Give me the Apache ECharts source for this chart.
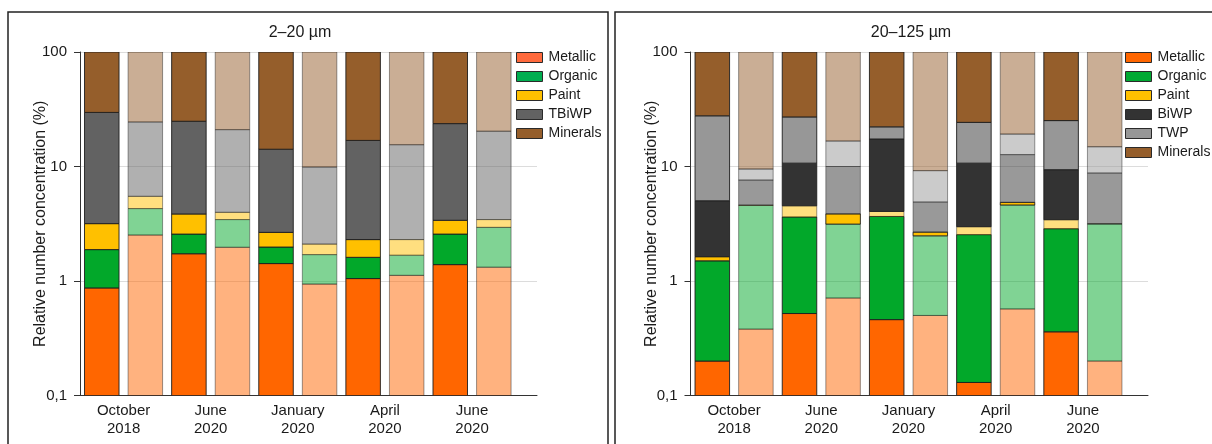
<!DOCTYPE html>
<html>
<head>
<meta charset="utf-8">
<script src="https://cdn.jsdelivr.net/npm/echarts@6/dist/echarts.min.js"></script>
<style>
  html, body { margin: 0; padding: 0; background: #ffffff; }
  #chart { width: 1212px; height: 444px; }
</style>
</head>
<body>
<div id="chart"></div>
<script>
// Sampling campaigns; each date holds two samples (solid bar, then pale bar).
const dates = ['October\n2018', 'June\n2020', 'January\n2020', 'April\n2020', 'June\n2020'];
const yTicks = [0.1, 1, 10, 100];

// 2–20 µm fraction, share of particle number (%) per sample
const fineClasses  = ['Metallic', 'Organic', 'Paint', 'TBiWP', 'Minerals'];
const fineMetallic = [0.87, 2.52, 1.73, 1.97, 1.42, 0.94, 1.05, 1.12, 1.39, 1.32];
const fineOrganic  = [1.01, 1.77, 0.84, 1.47, 0.56, 0.76, 0.56, 0.56, 1.18, 1.62];
const finePaint    = [1.29, 1.20, 1.28, 0.54, 0.68, 0.40, 0.69, 0.62, 0.82, 0.50];
const fineTBiWP    = [26.5, 19.0, 21.0, 17.0, 11.5, 7.8, 14.6, 13.2, 20.3, 16.9];
const fineMinerals = [70.3, 75.5, 75.1, 79.0, 85.8, 90.1, 83.1, 84.5, 76.3, 79.7];

// 20–125 µm fraction, share of particle number (%) per sample
const coarseClasses  = ['Metallic', 'Organic', 'Paint', 'BiWP', 'TWP', 'Minerals'];
const coarseMetallic = [0.20, 0.38, 0.52, 0.71, 0.46, 0.50, 0.13, 0.57, 0.36, 0.20];
const coarseOrganic  = [1.30, 4.19, 3.10, 2.43, 3.20, 1.98, 2.41, 4.04, 2.50, 2.94];
const coarsePaint    = [0.13, 0.03, 0.92, 0.71, 0.39, 0.19, 0.44, 0.25, 0.57, 0.03];
const coarseBiWP     = [3.39, 3.02, 6.16, 6.15, 13.35, 2.23, 7.72, 7.84, 5.95, 5.61];
const coarseTWP      = [22.7, 1.89, 16.4, 6.7, 4.8, 4.30, 13.6, 6.5, 15.8, 6.1];
const coarseMinerals = [72.3, 90.5, 72.9, 83.3, 77.8, 90.8, 75.7, 80.8, 74.8, 85.1];

// ---- styling ----
const FONT = "'Liberation Sans', Arial, Helvetica, sans-serif";
const INK = '#1a1a1a';
const Y_MIN = 0.1, Y_MAX = 100;
const COLORS = {
  Metallic: '#FF6600', Organic: '#02A82A', Paint: '#FFC000',
  TBiWP: '#626262', BiWP: '#333333', TWP: '#979797', Minerals: '#955E2B'
};
const LEGEND_COLORS = [
  { Metallic: '#FF6A3D', Organic: '#00AE50', Paint: '#FFC000', TBiWP: '#626262', Minerals: '#955E2B' },
  { Metallic: '#FF6600', Organic: '#00A933', Paint: '#FFC000', BiWP: '#333333', TWP: '#979797', Minerals: '#955E2B' }
];
// paint shading in the coarse panel (true = pale)
const coarsePaintPale = [false, true, true, false, true, false, true, false, true, true];

const panels = [
  {
    title: '2–20 µm', titleX: 300,
    classes: fineClasses,
    values: [fineMetallic, fineOrganic, finePaint, fineTBiWP, fineMinerals],
    axisX: 80, outerW: 457, innerW: 435.6, legendX: 516, border: [8, 12, 600, 470]
  },
  {
    title: '20–125 µm', titleX: 911,
    classes: coarseClasses,
    values: [coarseMetallic, coarseOrganic, coarsePaint, coarseBiWP, coarseTWP, coarseMinerals],
    paintPale: coarsePaintPale,
    axisX: 690.5, outerW: 457.5, innerW: 436, legendX: 1125, border: [615, 12, 620, 470]
  }
];

const TOP = 52, HEIGHT = 343.5;

const grid = [], xAxis = [], yAxis = [], series = [], legend = [], graphic = [];

function logAxisBase(gridIndex) {
  return { type: 'log', logBase: 10, min: Y_MIN, max: Y_MAX, gridIndex };
}

function renderSegment(params, api) {
  const pair = api.value(0), side = api.value(1);
  const lo = api.value(2), hi = api.value(3), pale = api.value(4);
  const band = api.size([1, 0])[0];
  const pLo = api.coord([pair, lo]);
  const pHi = api.coord([pair, hi]);
  const cx = pLo[0] + (side === 0 ? -0.25 : 0.25) * band;
  const w = band * 0.396;
  return {
    type: 'rect',
    shape: { x: cx - w / 2, y: pHi[1], width: w, height: pLo[1] - pHi[1] },
    style: {
      fill: api.visual('color'),
      stroke: 'rgba(30,30,30,0.9)',
      lineWidth: 1,
      opacity: pale ? 0.5 : 1
    }
  };
}

panels.forEach((p, idx) => {
  const outer = idx * 2, inner = idx * 2 + 1;
  // outer grid: axis lines, ticks, gridlines
  grid.push({ left: p.axisX, top: TOP, width: p.outerW, height: HEIGHT });
  // inner grid: the sample pairs
  grid.push({ left: p.axisX, top: TOP, width: p.innerW, height: HEIGHT });

  xAxis.push({
    type: 'value', gridIndex: outer, min: 0, max: 1,
    axisLine: { show: true, lineStyle: { color: '#333', width: 1 } },
    axisTick: { show: false }, axisLabel: { show: false }, splitLine: { show: false }
  });
  xAxis.push({
    type: 'category', gridIndex: inner, data: dates, boundaryGap: true,
    axisLine: { show: false }, axisTick: { show: false }, splitLine: { show: false },
    axisLabel: { color: INK, fontFamily: FONT, fontSize: 15, lineHeight: 17.5, margin: 7, interval: 0 }
  });

  yAxis.push(Object.assign(logAxisBase(outer), {
    name: 'Relative number concentration (%)',
    nameLocation: 'middle', nameGap: 31, nameMoveOverlap: false,
    nameTextStyle: { color: INK, fontFamily: FONT, fontSize: 16 },
    axisLine: { show: true, lineStyle: { color: '#333', width: 1 } },
    axisTick: { show: true, length: 6, lineStyle: { color: '#333' } },
    minorTick: { show: false },
    axisLabel: {
      color: INK, fontFamily: FONT, fontSize: 15, margin: 13,
      formatter: v => {
        const t = yTicks.find(k => Math.abs(k - v) < 1e-9);
        return t === undefined ? '' : String(t).replace('.', ',');
      }
    },
    splitLine: { show: true, lineStyle: { color: '#dcdcdc', width: 1 } }
  }));
  yAxis.push(Object.assign(logAxisBase(inner), { show: false }));

  // stacked segments, drawn from cumulative shares
  const n = p.values[0].length;
  const cum = new Array(n).fill(0);
  p.classes.forEach((name, k) => {
    const data = [];
    for (let i = 0; i < n; i++) {
      const lo = cum[i];
      const hi = lo + p.values[k][i];
      cum[i] = hi;
      let pale = i % 2 === 1;
      if (name === 'Paint' && p.paintPale) pale = p.paintPale[i];
      data.push([Math.floor(i / 2), i % 2, Math.max(lo, Y_MIN), Math.min(hi, Y_MAX), pale ? 1 : 0]);
    }
    series.push({
      type: 'custom', name, xAxisIndex: inner, yAxisIndex: inner,
      itemStyle: { color: COLORS[name] },
      encode: { x: 0, y: 3 },
      clip: true, silent: true,
      renderItem: renderSegment,
      data
    });
  });

  legend.push({
    orient: 'vertical', left: p.legendX, top: 50.5, padding: 0,
    itemWidth: 26, itemHeight: 10, itemGap: 5,
    selectedMode: false,
    textStyle: { color: INK, fontFamily: FONT, fontSize: 14, lineHeight: 14, padding: [0, 0, 0, 1] },
    data: p.classes.map(name => ({
      name, icon: 'rect',
      itemStyle: { color: LEGEND_COLORS[idx][name], borderColor: '#2a2a2a', borderWidth: 1 }
    }))
  });

  graphic.push({
    type: 'rect', silent: true, z: -1,
    shape: { x: p.border[0], y: p.border[1], width: p.border[2], height: p.border[3] },
    style: { fill: 'none', stroke: '#222', lineWidth: 1.5 }
  });
  graphic.push({
    type: 'text', silent: true, x: p.titleX, y: 33,
    style: { text: p.title, fill: INK, font: '16px ' + FONT, textAlign: 'center', textVerticalAlign: 'middle' }
  });
});

const chart = echarts.init(document.getElementById('chart'), null, { renderer: 'canvas' });
chart.setOption({
  animation: false,
  backgroundColor: '#ffffff',
  grid, xAxis, yAxis, series, legend, graphic
});
</script>
</body>
</html>
